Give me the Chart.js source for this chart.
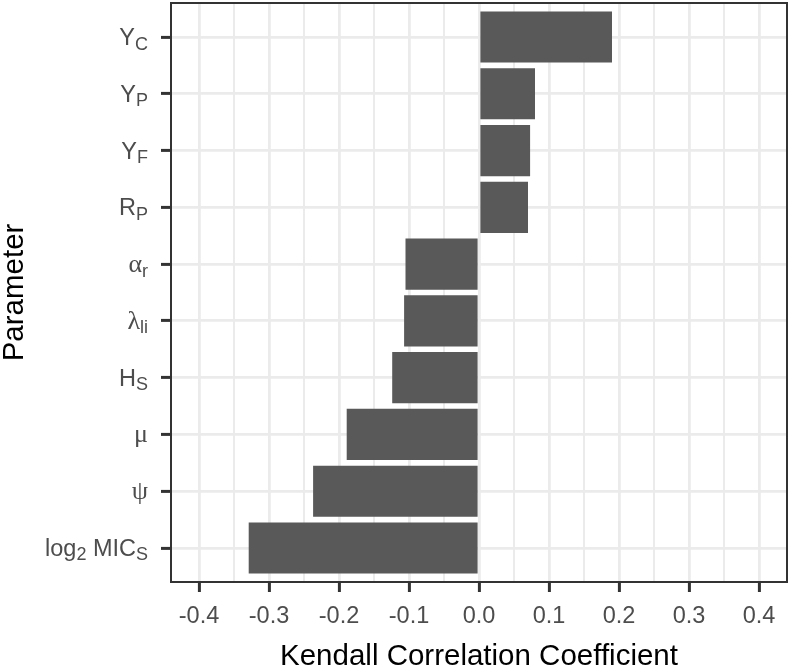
<!DOCTYPE html>
<html>
<head>
<meta charset="utf-8">
<script src="https://cdn.jsdelivr.net/npm/chart.js@4.4.1/dist/chart.umd.min.js"></script>
<style>
  body { margin: 0; background: #fff; }
  #wrap { width: 792px; height: 670px; }
</style>
</head>
<body>
<div id="wrap"><canvas id="myChart" width="792" height="670"></canvas></div>
<script>
// labels use "_" for subscript (up to the next space)
const gParams = ['Y_C', 'Y_P', 'Y_F', 'R_P', 'α_r', 'λ_li', 'H_S', 'μ', 'ψ', 'log_2 MIC_S']
const gKendall = [0.190, 0.080, 0.073, 0.070, -0.105, -0.107, -0.124, -0.189, -0.237, -0.329]
const gTickValues = [-0.4, -0.3, -0.2, -0.1, 0.0, 0.1, 0.2, 0.3, 0.4]
const gMinorTicks = [-0.35, -0.25, -0.15, -0.05, 0.05, 0.15, 0.25, 0.35]

const SANS = '"Liberation Sans", Arial, sans-serif'
const SERIF = '"Liberation Serif", "DejaVu Serif", serif'
const GRID = '#EBEBEB'
const INK = '#333333'

function splitLabel(text) {
  const parts = []
  const re = /_([^\s_]+)|([^_]+)/g
  let m
  while ((m = re.exec(text)) !== null) {
    if (m[1] !== undefined) parts.push({ t: m[1], sub: true })
    else parts.push({ t: m[2], sub: false })
  }
  return parts
}

function fontFor(str, sub) {
  if (/[\u0370-\u03FF]/.test(str)) return (sub ? 20 : 26) + 'px ' + SERIF
  return (sub ? 18 : 23.5) + 'px ' + SANS
}

const paramLabelsPlugin = {
  id: 'paramLabels',
  afterDraw(chart) {
    const ctx = chart.ctx
    const yScale = chart.scales.y
    const right = 148
    ctx.save()
    ctx.fillStyle = '#4D4D4D'
    ctx.textBaseline = 'alphabetic'
    ctx.textAlign = 'left'
    gParams.forEach((label, i) => {
      const parts = splitLabel(label)
      const y = yScale.getPixelForValue(i) + 8
      let total = 0
      parts.forEach(p => {
        ctx.font = fontFor(p.t, p.sub)
        p.w = ctx.measureText(p.t).width
        total += p.w
      })
      let x = right - total
      parts.forEach(p => {
        ctx.font = fontFor(p.t, p.sub)
        ctx.fillText(p.t, x, p.sub ? y + 4.5 : y)
        x += p.w
      })
    })
    ctx.restore()
  }
}

const panelBorderPlugin = {
  id: 'panelBorder',
  afterDatasetsDraw(chart) {
    const a = chart.chartArea
    const ctx = chart.ctx
    ctx.save()
    ctx.strokeStyle = INK
    ctx.lineWidth = 2
    ctx.strokeRect(a.left, a.top, a.right - a.left, a.bottom - a.top)
    ctx.restore()
  }
}

function isMajor(v) {
  return gTickValues.some(t => Math.abs(t - v) < 1e-9)
}

function displayChart() {
  const ctx = document.getElementById('myChart').getContext('2d')
  new Chart(ctx, {
    type: 'bar',
    data: {
      datasets: [{
        data: gKendall.map((v, i) => ({ x: v, y: i })),
        backgroundColor: '#595959',
        borderWidth: 0,
        categoryPercentage: 1,
        barPercentage: 0.9
      }]
    },
    plugins: [paramLabelsPlugin, panelBorderPlugin],
    options: {
      indexAxis: 'y',
      responsive: false,
      animation: false,
      layout: { padding: { left: 0, right: 5, top: 3, bottom: 0 } },
      scales: {
        x: {
          type: 'linear',
          min: -0.44,
          max: 0.44,
          afterBuildTicks: scale => {
            scale.ticks = gTickValues.concat(gMinorTicks).sort((a, b) => a - b).map(v => ({ value: v }))
          },
          afterFit: scale => { scale.height = 88 },
          border: { display: false },
          grid: {
            color: GRID,
            lineWidth: c => (isMajor(c.tick.value) ? 2.8 : 2),
            tickLength: 10,
            tickWidth: 3,
            tickColor: c => (isMajor(c.tick.value) ? INK : 'rgba(0,0,0,0)')
          },
          ticks: {
            color: '#4D4D4D',
            padding: 10,
            maxRotation: 0,
            autoSkip: false,
            font: { family: SANS, size: 23.5 },
            callback: v => (isMajor(v) ? v.toFixed(1) : '')
          },
          title: {
            display: true,
            text: 'Kendall Correlation Coefficient',
            color: '#000',
            padding: { top: 0, bottom: 1 },
            font: { family: SANS, size: 29.5, lineHeight: 0.85 }
          }
        },
        y: {
          type: 'linear',
          reverse: true,
          offset: false,
          min: -0.6,
          max: 9.6,
          afterBuildTicks: scale => {
            scale.ticks = gParams.map((p, i) => ({ value: i }))
          },
          afterFit: scale => { scale.width = 171 },
          border: { display: false },
          grid: {
            offset: false,
            color: GRID,
            lineWidth: 2.8,
            tickLength: 10,
            tickWidth: 3,
            tickColor: INK
          },
          ticks: { display: false },
          title: {
            display: true,
            text: 'Parameter',
            color: '#000',
            padding: { top: 0, bottom: 0 },
            font: { family: SANS, size: 29.5, lineHeight: 1 }
          }
        }
      },
      plugins: {
        legend: { display: false },
        tooltip: { enabled: false }
      }
    }
  })
}

displayChart()
</script>
</body>
</html>
